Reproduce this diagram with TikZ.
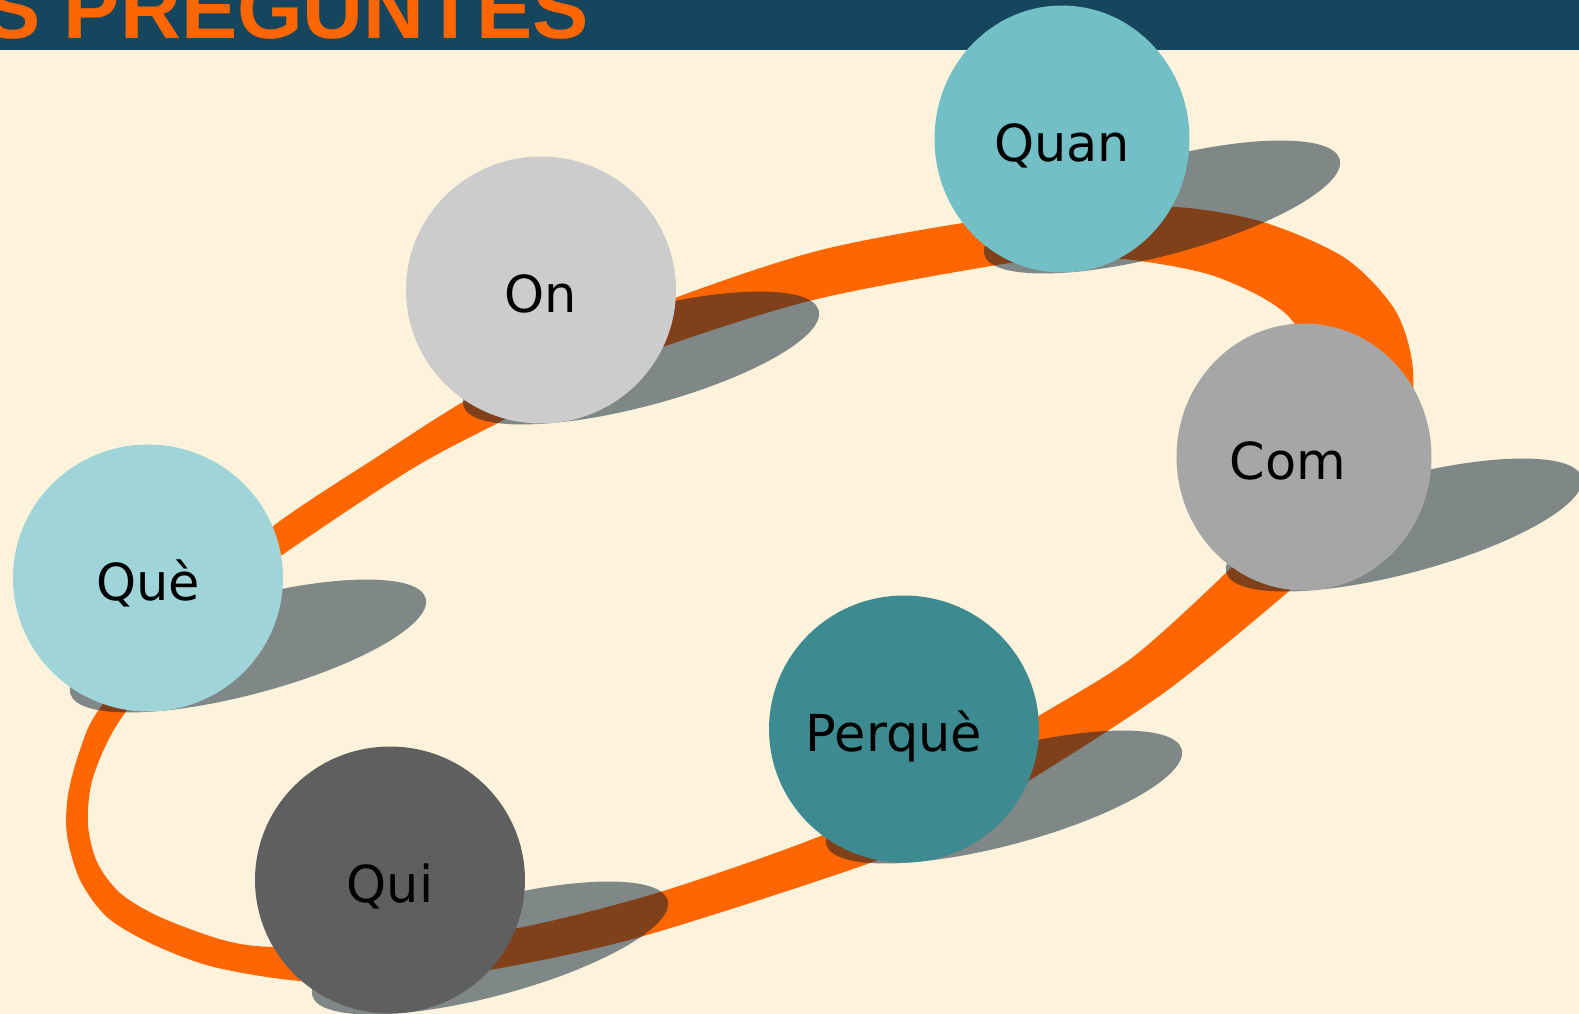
\documentclass[tikz,border=0pt]{standalone}
\usepackage{fontspec}
\setmainfont{DejaVu Sans}
\newfontfamily\titlefont{Liberation Sans}
\usepackage{tikz}
\usetikzlibrary{shapes.geometric, calc}

\definecolor{paper}{HTML}{FDF3DC}
\definecolor{barblue}{HTML}{16455E}
\definecolor{ringorange}{HTML}{FF6600}
\definecolor{shadenavy}{HTML}{031C34}
\definecolor{quefill}{HTML}{9FD4D8}
\definecolor{onfill}{HTML}{CCCCCC}
\definecolor{quanfill}{HTML}{72BFC5}
\definecolor{comfill}{HTML}{A6A6A6}
\definecolor{perquefill}{HTML}{3D8A91}
\definecolor{quifill}{HTML}{5F5F5F}

\pgfdeclarelayer{back}
\pgfsetlayers{back,main}

\tikzstyle{bubble} = [ellipse, inner sep=0pt, minimum width=5.4cm, minimum height=5.34cm, text height=29pt, text depth=3pt, font=\fontsize{29}{35}\selectfont]
\tikzstyle{narrow} = [minimum width=5.1cm]
\tikzstyle{castshadow} = [fill=shadenavy, fill opacity=0.5]

\begin{document}
\begin{tikzpicture}[x=0.02cm, y=-0.02cm]

      \useasboundingbox (0,0) rectangle (1579,1014);
      \clip (0,0) rectangle (1579,1014);

      % Title
      \node (title) [anchor=base west, inner sep=0pt, text=ringorange, font=\titlefont\bfseries\fontsize{48}{48}\selectfont] at (-16,38) {S PREGUNTES};

      % Nodes
      \node (que) [bubble, fill=quefill] at (148,578) {Què};
      \node (on) [bubble, fill=onfill] at (541,290) {On};
      \node (quan) [bubble, narrow, fill=quanfill] at (1062,139) {Quan};
      \node (com) [bubble, narrow, fill=comfill] at (1304,457) {\hspace*{-0.64cm}Com};
      \node (perque) [bubble, fill=perquefill] at (904,729) {\hspace*{-0.4cm}Perquè};
      \node (qui) [bubble, fill=quifill] at (390,880) {Qui};

      \begin{pgfonlayer}{back}
      \fill[paper] (0,0) rectangle (1579,1014);
      \fill[barblue] (0,0) rectangle (1579,50);

      % Ring
      \fill[ringorange, even odd rule]
        plot[smooth cycle] coordinates {(100,708) (80,750) (68,795) (67,835) (80,880) (107,917) (150,943) (210,966) (290,980) (380,984) (490,970) (640,937) (870,863) (950,825) (1030,780) (1165,692) (1288,592) (1355,530) (1405,445) (1413,370) (1395,310) (1345,258) (1263,222) (1177,207) (1080,209) (963,223) (817,251) (675,298) (570,345) (463,402) (377,457) (272,527) (180,610)}
        plot[smooth cycle] coordinates {(127,710) (105,747) (91,785) (88,825) (97,862) (120,893) (160,917) (223,940) (275,947) (400,944) (523,927) (660,892) (823,835) (930,782) (1037,717) (1133,657) (1232,567) (1300,495) (1325,400) (1290,318) (1217,277) (1133,260) (1070,258) (997,265) (813,300) (660,348) (580,383) (498,423) (410,470) (282,555) (200,615)};

      % Shadows
      \foreach \n in {que,on,quan,com,perque,qui}
        \fill[castshadow] ($(\n.center)+(100,68)$) ellipse [x radius=184, y radius=48, rotate=15];
      \end{pgfonlayer}

    \end{tikzpicture}
\end{document}
